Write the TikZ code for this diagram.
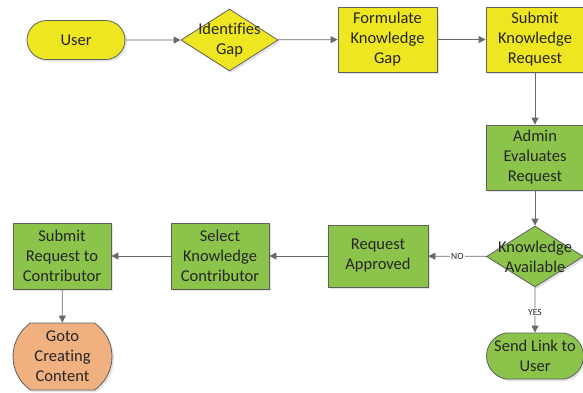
\documentclass[tikz,border=0pt]{standalone}
\usepackage{fontspec}
\setmainfont[Ligatures={NoCommon}]{Carlito}
\usetikzlibrary{shapes.geometric,shapes.misc,arrows.meta,shadows}
\definecolor{yel}{RGB}{238,230,32}
\definecolor{grn}{RGB}{140,195,75}
\definecolor{org}{RGB}{240,176,128}
\definecolor{bord}{RGB}{95,95,95}
\definecolor{conn}{RGB}{105,105,105}
\definecolor{txt}{RGB}{38,38,38}
\begin{document}
\begin{tikzpicture}[x=1pt,y=-1pt,
  base/.style={draw=bord, line width=0.8pt, font=\fontsize{16.5}{20}\selectfont, text=txt, align=center, inner sep=0pt,
    drop shadow={shadow xshift=2pt,shadow yshift=-2pt,opacity=0.22}},
  proc/.style={base, rectangle},
  term/.style={base, rounded rectangle},
  dia/.style={base, diamond},
  dlabel/.style={font=\fontsize{16.5}{20}\selectfont, text=txt, align=center, inner sep=0pt},
  conn/.style={draw=conn, line width=0.8pt, -{Triangle[length=7pt,width=7pt]}},
  lab/.style={fill=white, font=\fontsize{9.5}{10}\selectfont, text=txt, inner sep=1pt}]
\useasboundingbox (0,0) rectangle (583,392);

\node[term, fill=yel, minimum width=98pt, minimum height=39pt] (user) at (76,40) {User};
\node[dia, fill=yel, minimum width=97pt, minimum height=62pt,
  label={[dlabel]center:Identifies\\Gap}] (gap) at (229.5,40) {};
\node[proc, fill=yel, minimum width=99pt, minimum height=65pt] (form) at (387.5,39.5) {Formulate\\Knowledge\\Gap};
\node[proc, fill=yel, minimum width=98pt, minimum height=65pt] (subk) at (535,39.5) {Submit\\Knowledge\\Request};
\node[proc, fill=grn, minimum width=98pt, minimum height=65pt] (admin) at (535,157.5) {Admin\\Evaluates\\Request};
\node[dia, fill=grn, minimum width=97pt, minimum height=61pt,
  label={[dlabel]center:Knowledge\\Available}] (avail) at (535,256.5) {};
\node[proc, fill=grn, minimum width=100pt, minimum height=62pt] (appr) at (378,256) {Request\\Approved};
\node[proc, fill=grn, minimum width=98pt, minimum height=66pt] (sel) at (220,256) {Select\\Knowledge\\Contributor};
\node[proc, fill=grn, minimum width=98pt, minimum height=66pt] (subc) at (62,256) {Submit\\Request to\\Contributor};
\node[term, fill=org, rounded rectangle arc length=110, minimum width=99pt, minimum height=67pt] (goto) at (62.5,356.5) {Goto\\Creating\\Content};
\node[term, fill=grn, rounded rectangle arc length=160, minimum width=97pt, minimum height=46pt] (send) at (535,356) {Send Link to\\User};

\draw[conn] (user) -- (gap);
\draw[conn] (gap) -- (form);
\draw[conn] (form) -- (subk);
\draw[conn] (subk) -- (admin);
\draw[conn] (admin) -- (avail);
\draw[conn] (avail) -- node[lab] {NO} (appr);
\draw[conn] (avail) -- node[lab, pos=0.55] {YES} (send);
\draw[conn] (appr) -- (sel);
\draw[conn] (sel) -- (subc);
\draw[conn] (subc) -- (goto);
\end{tikzpicture}
\end{document}
